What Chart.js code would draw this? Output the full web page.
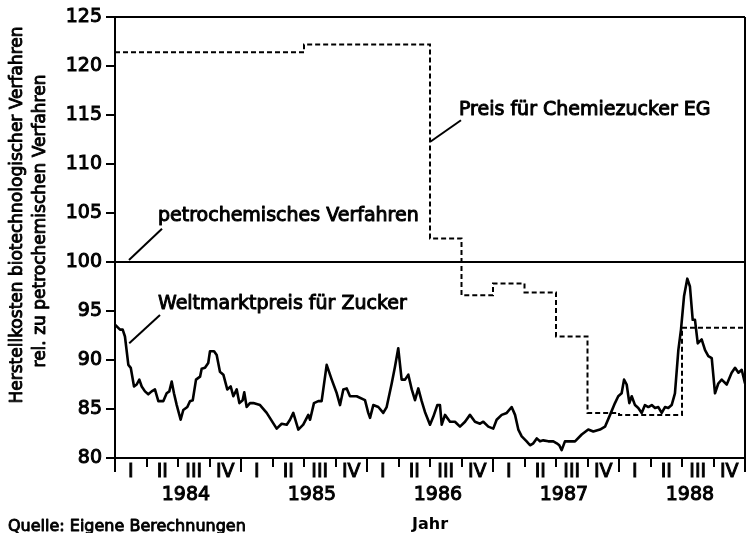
<!DOCTYPE html>
<html>
<head>
<meta charset="utf-8">
<script src="https://cdn.jsdelivr.net/npm/chart.js@4"></script>
<style>
html,body{margin:0;padding:0;background:#fff;}
#wrap{width:747px;height:533px;position:relative;}
</style>
</head>
<body>
<div id="wrap"><canvas id="c"></canvas></div>
<script>
// ---------- data ----------
const weltYears = [
 1984.000,1984.040,1984.061,1984.079,1984.106,1984.125,1984.151,1984.172,1984.193,1984.212,
 1984.238,1984.264,1984.291,1984.317,1984.344,1984.383,1984.410,1984.431,1984.450,1984.468,
 1984.490,1984.521,1984.542,1984.574,1984.595,1984.617,1984.643,1984.675,1984.688,1984.714,
 1984.740,1984.754,1984.786,1984.807,1984.833,1984.860,1984.891,1984.918,1984.939,1984.966,
 1984.987,1985.013,1985.026,1985.045,1985.071,1985.098,1985.151,1985.204,1985.283,1985.323,
 1985.363,1985.389,1985.415,1985.455,1985.494,1985.534,1985.548,1985.579,1985.613,1985.640,
 1985.680,1985.720,1985.760,1985.786,1985.812,1985.839,1985.865,1985.918,1985.984,1986.010,
 1986.024,1986.050,1986.090,1986.129,1986.156,1986.196,1986.222,1986.248,1986.275,1986.302,
 1986.328,1986.355,1986.381,1986.407,1986.434,1986.460,1986.500,1986.526,1986.558,1986.579,
 1986.593,1986.619,1986.659,1986.698,1986.738,1986.778,1986.817,1986.857,1986.897,1986.923,
 1986.963,1987.002,1987.029,1987.069,1987.109,1987.148,1987.175,1987.201,1987.228,1987.267,
 1987.294,1987.320,1987.347,1987.373,1987.399,1987.439,1987.479,1987.506,1987.526,1987.545,
 1987.571,1987.611,1987.651,1987.704,1987.756,1987.796,1987.849,1987.889,1987.929,1987.968,
 1987.994,1988.021,1988.040,1988.061,1988.082,1988.101,1988.127,1988.153,1988.180,1988.206,
 1988.233,1988.260,1988.286,1988.312,1988.339,1988.365,1988.391,1988.418,1988.444,1988.471,
 1988.492,1988.516,1988.542,1988.563,1988.585,1988.603,1988.625,1988.656,1988.683,1988.709,
 1988.736,1988.762,1988.788,1988.815,1988.855,1988.894,1988.921,1988.948,1988.974,1989.000
];
const weltValues = [
 93.6,93.1,93.1,92.4,89.5,89.2,87.3,87.5,88.0,87.3,
 86.8,86.5,86.8,87.0,85.8,85.8,86.6,86.8,87.8,86.6,
 85.4,83.9,84.9,85.2,85.8,85.9,88.0,88.3,89.1,89.2,
 89.7,90.9,90.9,90.5,88.8,88.5,87.0,87.3,86.3,87.0,
 85.6,85.9,86.7,85.2,85.6,85.6,85.4,84.6,83.0,83.5,
 83.4,83.9,84.6,82.9,83.4,84.4,83.9,85.6,85.8,85.8,
 89.5,88.0,86.6,85.4,87.0,87.1,86.3,86.3,85.9,84.6,
 84.1,85.4,85.2,84.6,85.2,87.6,89.3,91.2,88.0,88.0,
 88.5,87.0,85.9,87.1,85.8,84.7,83.4,84.2,85.4,85.4,
 83.4,84.4,83.7,83.7,83.2,83.7,84.4,83.7,83.5,83.7,
 83.2,83.0,83.9,84.4,84.6,85.2,84.4,82.9,82.2,81.7,
 81.3,81.5,82.0,81.7,81.8,81.7,81.7,81.5,81.3,80.8,
 81.7,81.7,81.7,82.4,82.9,82.7,82.9,83.2,84.4,85.6,
 86.3,86.6,88.0,87.5,85.6,86.3,85.4,85.1,84.6,85.4,
 85.2,85.4,85.1,85.2,84.6,85.2,85.1,85.4,86.6,91.0,
 93.1,96.5,98.3,97.5,94.1,94.1,91.7,92.1,91.0,90.4,
 90.2,86.6,87.6,88.0,87.5,88.7,89.2,88.7,89.0,87.6
];
const egQuarterStarts = [1984,1984.25,1984.5,1984.75,1985,1985.25,1985.5,1985.75,1986,1986.25,1986.5,1986.75,1987,1987.25,1987.5,1987.75,1988,1988.25,1988.5,1988.75,1989];
const egValues        = [121.4,121.4,121.4,121.4,121.4,121.4,122.2,122.2,122.2,122.2,102.4,96.6,97.8,96.9,92.4,84.6,84.4,84.4,93.3,93.3,93.8];
const petroYears  = [1984, 1989];
const petroValues = [100, 100];
const quarterLabels = ['I','II','III','IV'];
const yearLabels = ['1984','1985','1986','1987','1988'];
const yMin = 80, yMax = 125, yStep = 5;
const xMin = 1984, xMax = 1989;

function pts(xs, ys){ return xs.map((x,i)=>({x:x, y:ys[i]})); }

const FONT = "'DejaVu Sans', sans-serif";
const T = 'rgba(0,0,0,0)';

function tickIndex(v){ return Math.round((v - xMin) * 16); }

// annotation layout (in data units)
const notes = [
  {text:'Preis für Chemiezucker EG', x:1986.730, y:114.97, from:[1986.746,114.46], to:[1986.505,112.3]},
  {text:'petrochemisches Verfahren', x:1984.341, y:104.2, from:[1984.373,103.4], to:[1984.111,100.2]},
  {text:'Weltmarktpreis für Zucker', x:1984.341, y:95.2, from:[1984.357,94.6], to:[1984.113,91.7]}
];

const annotPlugin = {
  id:'annot',
  afterDraw(chart){
    const {ctx, scales:{x, y}} = chart;
    ctx.save();
    ctx.fillStyle = '#000';
    ctx.strokeStyle = '#000';
    ctx.lineJoin = 'round';
    ctx.font = "19px " + FONT;
    ctx.textAlign = 'left';
    ctx.textBaseline = 'alphabetic';
    notes.forEach(n=>{
      ctx.lineWidth = 2;
      ctx.beginPath();
      ctx.moveTo(x.getPixelForValue(n.from[0]), y.getPixelForValue(n.from[1]));
      ctx.lineTo(x.getPixelForValue(n.to[0]), y.getPixelForValue(n.to[1]));
      ctx.stroke();
      ctx.lineWidth = 1.0;
      const px = x.getPixelForValue(n.x), py = y.getPixelForValue(n.y);
      ctx.fillText(n.text, px, py);
      ctx.strokeText(n.text, px, py);
    });
    ctx.font = "17px " + FONT;
    ctx.textAlign = 'center';
    ctx.lineWidth = 0.9;
    const lines = [
      {t:'Herstellkosten biotechnologischer Verfahren', bx:21.5, cy:215},
      {t:'rel. zu petrochemischen Verfahren', bx:45, cy:221}
    ];
    lines.forEach(l=>{
      ctx.save();
      ctx.translate(l.bx, l.cy);
      ctx.rotate(-Math.PI/2);
      ctx.fillText(l.t, 0, 0);
      ctx.strokeText(l.t, 0, 0);
      ctx.restore();
    });
    ctx.font = "16px " + FONT;
    ctx.textAlign = 'left';
    ctx.lineWidth = 0.9;
    ctx.fillText('Quelle: Eigene Berechnungen', 8, 531);
    ctx.strokeText('Quelle: Eigene Berechnungen', 8, 531);
    ctx.restore();
  }
};

new Chart(document.getElementById('c'), {
  type:'line',
  data:{
    datasets:[
      {label:'petrochemisches Verfahren', data:pts(petroYears, petroValues), borderColor:'#000', borderWidth:2, pointRadius:0, tension:0},
      {label:'Preis für Chemiezucker EG', data:pts(egQuarterStarts, egValues), borderColor:'#000', borderWidth:2, borderDash:[5,3], stepped:'before', pointRadius:0, tension:0},
      {label:'Weltmarktpreis für Zucker', data:pts(weltYears, weltValues), borderColor:'#000', borderWidth:2.6, borderJoinStyle:'round', pointRadius:0, tension:0}
    ]
  },
  options:{
    responsive:true, maintainAspectRatio:false, animation:false, devicePixelRatio:1,
    layout:{padding:{top:17, right:2, left:0, bottom:0}},
    plugins:{legend:{display:false}, tooltip:{enabled:false}, title:{display:false}},
    scales:{
      x:{
        type:'linear', min:xMin, max:xMax, position:'bottom',
        afterFit(s){ s.height = 75; },
        border:{display:true, color:'#000', width:2},
        grid:{
          drawOnChartArea:true,
          color: c => (c.tick && tickIndex(c.tick.value) === 80) ? '#000' : T,
          lineWidth:2,
          tickLength:14,
          tickWidth:2,
          tickColor: c => { if(!c.tick) return T; const r = tickIndex(c.tick.value) % 16; return (r % 4 === 0) ? '#000' : T; },
          tickBorderDash: c => { if(!c.tick) return []; const r = tickIndex(c.tick.value) % 16; return r === 0 ? [] : [8, 60]; }
        },
        ticks:{
          stepSize:0.0625, autoSkip:false, maxRotation:0, minRotation:0, padding:-11,
          color:'#000', font:{family:FONT, size:19, lineHeight:1.2},
          textStrokeColor:'#000', textStrokeWidth:1,
          callback(v){
            const idx = tickIndex(v), yr = Math.floor(idx/16), r = idx % 16;
            if (r % 4 === 2) return quarterLabels[(r-2)/4];
            if (r === 9 && yr < yearLabels.length) return ['', yearLabels[yr]];
            return '';
          }
        },
        title:{display:true, text:'Jahr', color:'#000', font:{family:FONT, size:16, weight:'bold', lineHeight:1.0}, padding:{top:0, bottom:0}}
      },
      y:{
        type:'linear', min:yMin, max:yMax, position:'left',
        afterFit(s){ s.width = 115; },
        border:{display:true, color:'#000', width:2},
        grid:{
          drawOnChartArea:true,
          color: c => (c.tick && c.tick.value === yMax) ? '#000' : T,
          lineWidth:2, tickLength:9, tickWidth:2, tickColor:'#000'
        },
        ticks:{stepSize:yStep, padding:4, color:'#000', font:{family:FONT, size:19},
               textStrokeColor:'#000', textStrokeWidth:1}
      }
    }
  },
  plugins:[annotPlugin]
});
</script>
</body>
</html>
